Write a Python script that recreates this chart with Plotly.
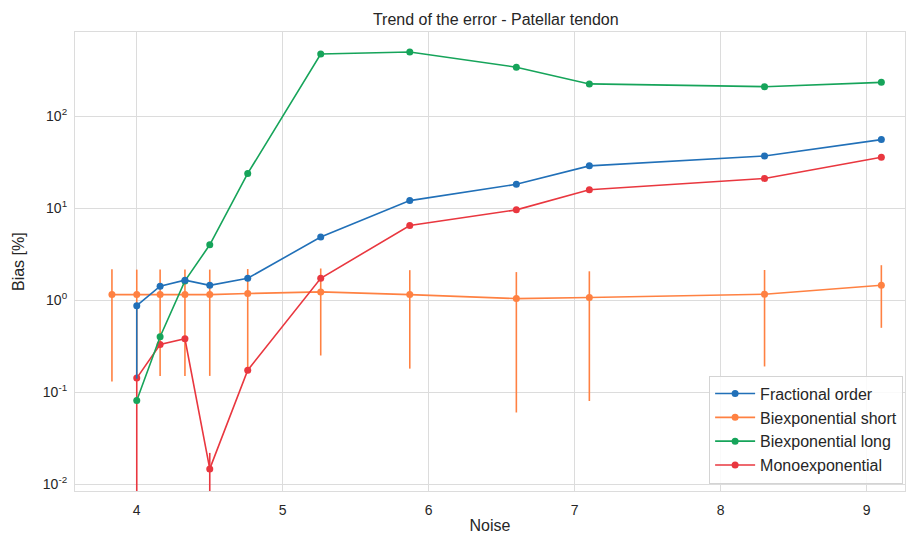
import plotly.graph_objects as go

# ---- data ----
noise = [3.83, 4.0, 4.16, 4.33, 4.5, 4.76, 5.26, 5.87, 6.6, 7.1, 8.3, 9.1]
noise_no_first = noise[1:]

frac_order = [0.87, 1.42, 1.65, 1.45, 1.73, 4.86, 12.1, 18.2, 28.9, 37.0, 55.8]
frac_err_plus = [0, 0, 0, 0, 0, 0, 0, 0, 0, 0, 0]
frac_err_minus = [0.73, 0, 0, 0, 0, 0, 0, 0, 0, 0, 0]

biexp_short = [1.15, 1.15, 1.15, 1.15, 1.15, 1.18, 1.23, 1.15, 1.04, 1.07, 1.16, 1.45]
biexp_short_err = [1.02, 1.0, 1.0, 1.0, 1.0, 1.0, 0.98, 0.97, 0.98, 0.99, 0.97, 0.95]

biexp_long = [0.081, 0.40, 1.62, 4.0, 23.9, 476, 500, 342, 225, 210, 234]
biexp_long_err = [0, 0, 0, 0, 0, 0, 0, 0, 0, 0, 0]

mono = [0.142, 0.33, 0.38, 0.0146, 0.173, 1.73, 6.48, 9.6, 15.9, 21.1, 35.9]
mono_err_plus = [0, 0, 0, 0.0072, 0, 0, 0, 0, 0, 0, 0]
mono_err_minus = [0.141, 0, 0, 0.0072, 0, 0, 0, 0, 0, 0, 0]

y_tickvals = [0.01, 0.1, 1, 10, 100]
y_ticktext = ["10<sup>-2</sup>", "10<sup>-1</sup>", "10<sup>0</sup>", "10<sup>1</sup>", "10<sup>2</sup>"]
x_tickvals = [4, 5, 6, 7, 8, 9]

colors = {
    "Fractional order": "#2170b8",
    "Biexponential short": "#ff8142",
    "Biexponential long": "#16a45a",
    "Monoexponential": "#e9373f",
}

def trace(name, x, y, err_plus, err_minus, rank):
    c = colors[name]
    return go.Scatter(
        x=x, y=y, name=name, mode="lines+markers",
        line=dict(color=c, width=1.6),
        marker=dict(color=c, size=7),
        error_y=dict(type="data", array=err_plus, arrayminus=err_minus,
                     symmetric=False, color=c, thickness=1.6, width=0),
        legendrank=rank,
    )

fig = go.Figure()
fig.add_trace(trace("Biexponential short", noise, biexp_short, biexp_short_err, biexp_short_err, 2))
fig.add_trace(trace("Monoexponential", noise_no_first, mono, mono_err_plus, mono_err_minus, 4))
fig.add_trace(trace("Biexponential long", noise_no_first, biexp_long, biexp_long_err, biexp_long_err, 3))
fig.add_trace(trace("Fractional order", noise_no_first, frac_order, frac_err_plus, frac_err_minus, 1))

grid = "#dcdcdc"
plot_w = 908 - 75 - 3
fig.update_layout(
    width=908, height=534,
    margin=dict(l=75, r=3, t=32, b=43),
    paper_bgcolor="white", plot_bgcolor="white",
    font=dict(family="Liberation Sans, Arial, sans-serif", color="#262626", size=14),
    title=dict(text="Trend of the error - Patellar tendon", x=0.546, xref="container",
               xanchor="center", y=1 - 19 / 534, yref="container", yanchor="middle",
               font=dict(size=16, color="#262626")),
    showlegend=True,
    legend=dict(x=0.764, y=0.016, xanchor="left", yanchor="bottom",
                bgcolor="rgba(255,255,255,0.85)", bordercolor="#d4d4d4", borderwidth=1,
                font=dict(size=16, color="#262626"), tracegroupgap=0,
                itemwidth=40),
    annotations=[dict(text="Bias [%]", textangle=-90, xref="paper", yref="paper",
                      x=(18 - 75) / plot_w, y=(491 - 262) / (491 - 32),
                      xanchor="center", yanchor="middle", showarrow=False,
                      font=dict(size=16, color="#262626"))],
)
fig.update_xaxes(
    range=[3.577, 9.262], tickvals=x_tickvals, showgrid=True, gridcolor=grid, gridwidth=1.2,
    zeroline=False, showline=True, linecolor=grid, linewidth=1.2, mirror=True,
    ticks="outside", ticklen=6, tickcolor="rgba(0,0,0,0)", tickfont=dict(size=14),
    title=dict(text="Noise", font=dict(size=16), standoff=2),
)
fig.update_yaxes(
    type="log", range=[-2.076, 2.917], tickvals=y_tickvals, ticktext=y_ticktext,
    showgrid=True, gridcolor=grid, gridwidth=1.2, zeroline=False,
    showline=True, linecolor=grid, linewidth=1.2, mirror=True,
    ticks="outside", ticklen=4, tickcolor="rgba(0,0,0,0)", tickfont=dict(size=14),
)

fig.write_html("out.html", config={"displayModeBar": False},
               post_script="document.body.style.margin='0px';document.body.style.overflow='hidden';")
